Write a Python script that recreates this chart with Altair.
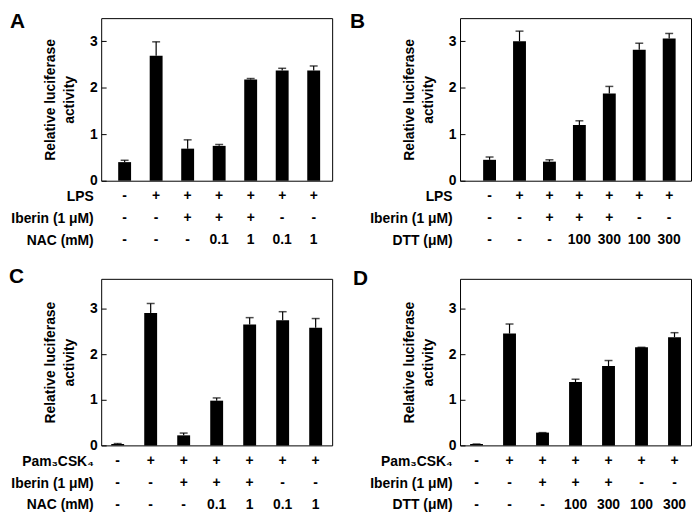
import altair as alt
import pandas as pd

categories = [1, 2, 3, 4, 5, 6, 7]

a_values = [0.40, 2.69, 0.69, 0.75, 2.18, 2.37, 2.37]
a_upper = [0.44, 2.99, 0.88, 0.78, 2.20, 2.42, 2.47]
b_values = [0.45, 3.00, 0.41, 1.20, 1.88, 2.82, 3.06]
b_upper = [0.51, 3.22, 0.45, 1.29, 2.03, 2.96, 3.17]
c_values = [0.03, 2.90, 0.22, 0.98, 2.65, 2.74, 2.58]
c_upper = [0.04, 3.11, 0.27, 1.04, 2.80, 2.93, 2.78]
d_values = [0.03, 2.45, 0.28, 1.39, 1.74, 2.15, 2.37]
d_upper = [0.03, 2.66, 0.28, 1.45, 1.86, 2.15, 2.47]

lps_row = ["-", "+", "+", "+", "+", "+", "+"]
iberin_row = ["-", "-", "+", "+", "+", "-", "-"]
nac_row = ["-", "-", "-", "0.1", "1", "0.1", "1"]
dtt_row = ["-", "-", "-", "100", "300", "100", "300"]

y_ticks = [0, 1, 2, 3]
y_title = ["Relative luciferase", "activity"]

FONT = "Liberation Sans"
W = 233


def y_axis():
    return alt.Axis(
        values=y_ticks, title=y_title, titleFontSize=14, titleFontWeight="bold",
        titleLineHeight=19, titlePadding=13, titleColor="black",
        labelFontSize=14, labelFontWeight="bold", labelColor="black",
        tickSize=5, tickColor="black", tickWidth=1, offset=-5, labelPadding=4,
        domain=False, grid=False,
    )


def panel(letter, values, upper, rows, ymax, height, pad_outer, align, lx, ly):
    df = pd.DataFrame({"cond": categories, "value": values, "upper": upper})
    xscale = alt.Scale(type="band", domain=categories, paddingInner=0,
                       paddingOuter=pad_outer, align=align)
    x = alt.X("cond:O", scale=xscale, axis=None)
    yscale = alt.Scale(domain=[0, ymax], nice=False)
    base = alt.Chart(df)
    bars = base.mark_bar(color="black", size=13).encode(
        x=x, y=alt.Y("value:Q", scale=yscale, axis=y_axis()))
    err = base.mark_rule(color="black", strokeWidth=1.2).encode(
        x=x, y=alt.Y("value:Q", scale=yscale, axis=y_axis()), y2="upper:Q")
    cap = base.mark_tick(color="black", size=8, thickness=1.5).encode(
        x=x, y=alt.Y("upper:Q", scale=yscale, axis=y_axis()))
    tag = alt.Chart(pd.DataFrame({"letter": [letter]})).mark_text(
        font=FONT, fontSize=21, fontWeight="bold", color="black",
        align="left", baseline="alphabetic",
    ).encode(text="letter:N", x=alt.value(lx), y=alt.value(ly))
    top = alt.layer(bars, err, cap, tag).properties(width=W, height=height)

    labels = [r[0] for r in rows]
    trows = []
    for label, vals in rows:
        for c, v in zip(categories, vals):
            trows.append({"row": label, "cond": c, "val": v})
    tdf = pd.DataFrame(trows)
    table = alt.Chart(tdf).mark_text(
        font=FONT, fontSize=14, fontWeight="bold", color="black"
    ).encode(
        x=x,
        y=alt.Y("row:N", sort=labels, scale=alt.Scale(type="point", padding=0.27),
                axis=alt.Axis(title=None, labelFontSize=14, labelFontWeight="bold",
                              labelColor="black", ticks=False, tickSize=0,
                              domain=False, grid=False, labelPadding=8)),
        text="val:N",
    ).properties(width=W, height=56, view=alt.ViewBackground(stroke="transparent"))

    return alt.vconcat(top, table, spacing=0)


rows_a = [("LPS", lps_row), ("Iberin (1 μM)", iberin_row), ("NAC (mM)", nac_row)]
rows_b = [("LPS", lps_row), ("Iberin (1 μM)", iberin_row), ("DTT (μM)", dtt_row)]
rows_c = [("Pam₃CSK₄", lps_row), ("Iberin (1 μM)", iberin_row), ("NAC (mM)", nac_row)]
rows_d = [("Pam₃CSK₄", lps_row), ("Iberin (1 μM)", iberin_row), ("DTT (μM)", dtt_row)]

pa = panel("A", a_values, a_upper, rows_a, 3.5, 164, 0.165, 0.74, -92, 10)
pb = panel("B", b_values, b_upper, rows_b, 3.5, 164, 0.358, 0.68, -111, 10)
pc = panel("C", c_values, c_upper, rows_c, 3.65, 168, 0.0, 0.5, -93, 4)
pd_ = panel("D", d_values, d_upper, rows_d, 3.65, 168, 0.0, 0.5, -108, 6)

chart = alt.vconcat(
    alt.hconcat(pa, pb, spacing=16),
    alt.hconcat(pc, pd_, spacing=19),
    spacing=17,
).properties(padding=0).configure(font=FONT).configure_view(
    stroke="black", strokeWidth=1
)

chart.save("out.html", embed_options={"renderer": "svg", "actions": False})
